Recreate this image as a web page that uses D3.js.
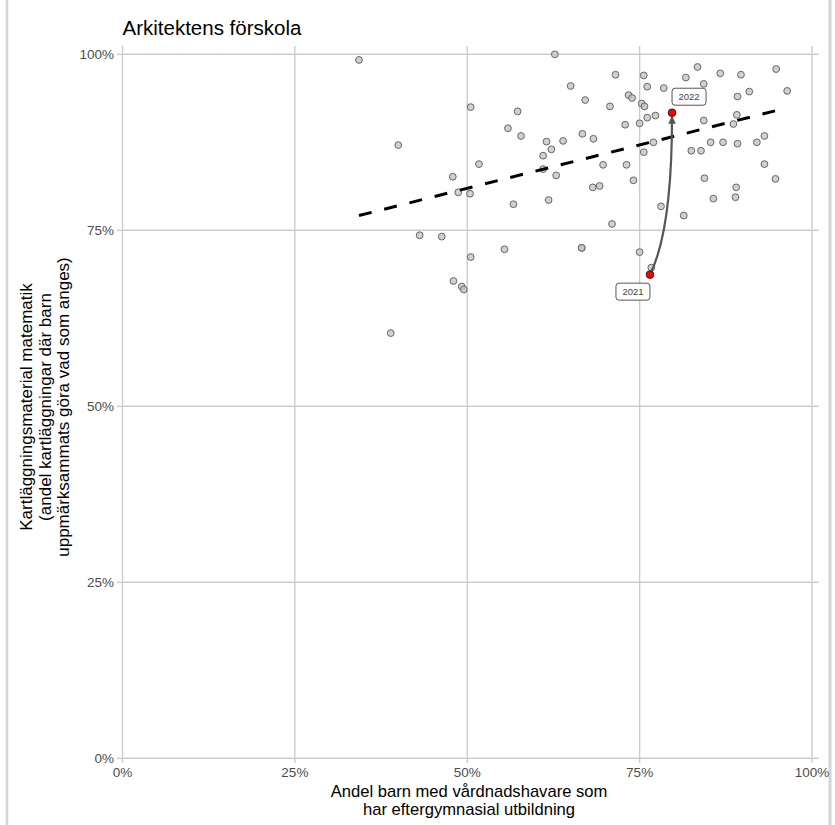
<!DOCTYPE html>
<html>
<head>
<meta charset="utf-8">
<script src="https://cdn.jsdelivr.net/npm/d3@7"></script>
<style>
  body { margin: 0; background: #fff; }
  svg { font-family: "Liberation Sans", Arial, sans-serif; }
</style>
</head>
<body>
<div id="chart"></div>
<script>
// percent values
var schoolX = [34.3, 50.5, 55.9, 40.0, 51.7, 47.9, 48.7, 50.4, 43.1, 46.3, 55.4, 50.5, 48.0, 49.2, 49.5, 38.9,
  62.7, 71.5, 75.6, 65.0, 76.1, 78.5, 73.4, 73.9, 67.1, 75.3, 75.7, 70.7, 57.3, 77.3, 76.1, 72.9, 75.0,
  57.8, 66.7, 68.3, 61.5, 63.9, 62.2, 77.0, 75.6, 61.0, 69.7, 73.1, 61.0, 62.9, 74.1, 68.2, 69.2, 56.7,
  61.8, 78.1, 71.0, 66.6, 66.6, 75.0, 76.7, 83.4, 94.8, 86.7, 89.7, 81.7, 84.3, 96.4, 90.9, 89.2, 89.1,
  84.3, 88.6, 85.3, 87.1, 89.2, 92.0, 93.1, 82.5, 83.9, 93.1, 84.4, 94.7, 89.0, 85.7, 88.9, 81.4, 79.7];
var schoolY = [99.2, 92.5, 89.5, 87.1, 84.4, 82.6, 80.4, 80.2, 74.3, 74.1, 72.3, 71.2, 67.8, 67.0, 66.6, 60.4,
  100.0, 97.1, 97.0, 95.5, 95.4, 95.2, 94.2, 93.8, 93.5, 93.0, 92.6, 92.6, 91.9, 91.3, 91.0, 90.0, 90.2,
  88.4, 88.7, 88.0, 87.6, 87.7, 86.5, 87.5, 86.1, 85.6, 84.3, 84.3, 83.7, 82.8, 82.1, 81.1, 81.3, 78.7,
  79.3, 78.4, 75.9, 72.5, 72.5, 71.9, 69.7, 98.2, 97.9, 97.3, 97.1, 96.7, 95.8, 94.8, 94.7, 94.0, 91.4,
  90.6, 90.1, 87.5, 87.5, 87.3, 87.5, 88.4, 86.3, 86.3, 84.4, 82.4, 82.3, 81.1, 79.5, 79.7, 77.1, 91.7];

var years = ["2021", "2022"];
var yearX = [76.5, 79.7];
var yearY = [68.7, 91.7];

var trendX = [34.3, 94.8];
var trendY = [77.1, 92.0];

var ticks = [0, 25, 50, 75, 100];

var W = 835, H = 825;
var svg = d3.select("#chart").append("svg")
  .attr("width", W).attr("height", H);

var x = d3.scaleLinear().domain([0, 100]).range([122.5, 812]);
var y = d3.scaleLinear().domain([0, 100]).range([758.3, 54.3]);
var pct = function(d) { return d + "%"; };

// page border lines
svg.append("line").attr("x1", 7).attr("x2", 7).attr("y1", 0).attr("y2", H)
  .attr("stroke", "#d4d4d4").attr("stroke-width", 2.5);
svg.append("line").attr("x1", 830).attr("x2", 830).attr("y1", 0).attr("y2", H)
  .attr("stroke", "#d4d4d4").attr("stroke-width", 3);

// grid
var grid = svg.append("g");
grid.selectAll("line.h").data(ticks).enter().append("line")
  .attr("x1", 117).attr("x2", 819)
  .attr("y1", function(d) { return y(d); }).attr("y2", function(d) { return y(d); })
  .attr("stroke", "#cccccc").attr("stroke-width", 1.4);
grid.selectAll("line.v").data(ticks).enter().append("line")
  .attr("y1", 46).attr("y2", 763)
  .attr("x1", function(d) { return x(d); }).attr("x2", function(d) { return x(d); })
  .attr("stroke", "#cccccc").attr("stroke-width", 1.4);

// tick labels
svg.append("g").selectAll("text").data(ticks).enter().append("text")
  .attr("x", 114).attr("y", function(d) { return y(d); })
  .attr("dy", "0.35em").attr("text-anchor", "end")
  .attr("font-size", 13.5).attr("fill", "#4d4d4d")
  .text(pct);
svg.append("g").selectAll("text").data(ticks).enter().append("text")
  .attr("x", function(d) { return x(d); }).attr("y", 777)
  .attr("text-anchor", "middle")
  .attr("font-size", 13.5).attr("fill", "#4d4d4d")
  .text(pct);

// titles
svg.append("text").attr("x", 122.5).attr("y", 35)
  .attr("font-size", 20.5).attr("fill", "#000").text("Arkitektens förskola");

var xt = svg.append("text").attr("text-anchor", "middle").attr("font-size", 16.6).attr("fill", "#000");
xt.append("tspan").attr("x", 469).attr("y", 797).text("Andel barn med vårdnadshavare som");
xt.append("tspan").attr("x", 469).attr("y", 815).text("har eftergymnasial utbildning");

var yt = svg.append("text").attr("text-anchor", "middle").attr("font-size", 17).attr("fill", "#000")
  .attr("transform", "translate(0,407) rotate(-90)");
["Kartläggningsmaterial matematik", "(andel kartläggningar där barn", "uppmärksammats göra vad som anges)"]
  .forEach(function(s, i) {
    yt.append("tspan").attr("x", 0).attr("y", 32 + i * 18.5).text(s);
  });

// points
var pts = schoolX.map(function(d, i) { return { x: d, y: schoolY[i] }; });
svg.append("g").selectAll("circle").data(pts).enter().append("circle")
  .attr("cx", function(d) { return x(d.x); })
  .attr("cy", function(d) { return y(d.y); })
  .attr("r", 3.4)
  .attr("fill", "#c4c4c4").attr("fill-opacity", 0.8)
  .attr("stroke", "#666").attr("stroke-width", 1);

// trend line
svg.append("line")
  .attr("x1", x(trendX[0])).attr("y1", y(trendY[0]))
  .attr("x2", x(trendX[1])).attr("y2", y(trendY[1]))
  .attr("stroke", "#000").attr("stroke-width", 3)
  .attr("stroke-dasharray", "13,13");

// arrow from 2021 to 2022
svg.append("defs").append("marker")
  .attr("id", "arr").attr("viewBox", "0 0 10 10")
  .attr("refX", 9).attr("refY", 5)
  .attr("markerWidth", 3.5).attr("markerHeight", 3.5)
  .attr("orient", "auto")
  .append("path").attr("d", "M0,0 L10,5 L0,10 Z").attr("fill", "#555");

var sx = x(yearX[0]), sy = y(yearY[0]), ex = x(yearX[1]), ey = y(yearY[1]) + 4;
var p = d3.path();
p.moveTo(sx, sy);
p.quadraticCurveTo(ex, sy + (ey - sy) * 0.28, ex, ey);
svg.append("path").attr("d", p.toString())
  .attr("fill", "none").attr("stroke", "#555").attr("stroke-width", 2.2)
  .attr("marker-end", "url(#arr)");

var hl = years.map(function(d, i) { return { year: d, x: yearX[i], y: yearY[i] }; });
svg.append("g").selectAll("circle").data(hl).enter().append("circle")
  .attr("cx", function(d) { return x(d.x); })
  .attr("cy", function(d) { return y(d.y); })
  .attr("r", 3.8)
  .attr("fill", "#ff0000").attr("stroke", "#222").attr("stroke-width", 1);

// year labels
var offs = [[-17, 17], [17, -16]];
var lab = svg.append("g").selectAll("g").data(hl).enter().append("g")
  .attr("transform", function(d, i) {
    return "translate(" + (x(d.x) + offs[i][0]) + "," + (y(d.y) + offs[i][1]) + ")";
  });
lab.append("rect").attr("x", -17).attr("y", -8.5).attr("width", 34).attr("height", 17)
  .attr("rx", 3).attr("fill", "#fff").attr("stroke", "#555").attr("stroke-width", 1);
lab.append("text").attr("text-anchor", "middle").attr("dy", "0.35em")
  .attr("font-size", 9.5).attr("fill", "#444")
  .text(function(d) { return d.year; });
</script>
</body>
</html>
